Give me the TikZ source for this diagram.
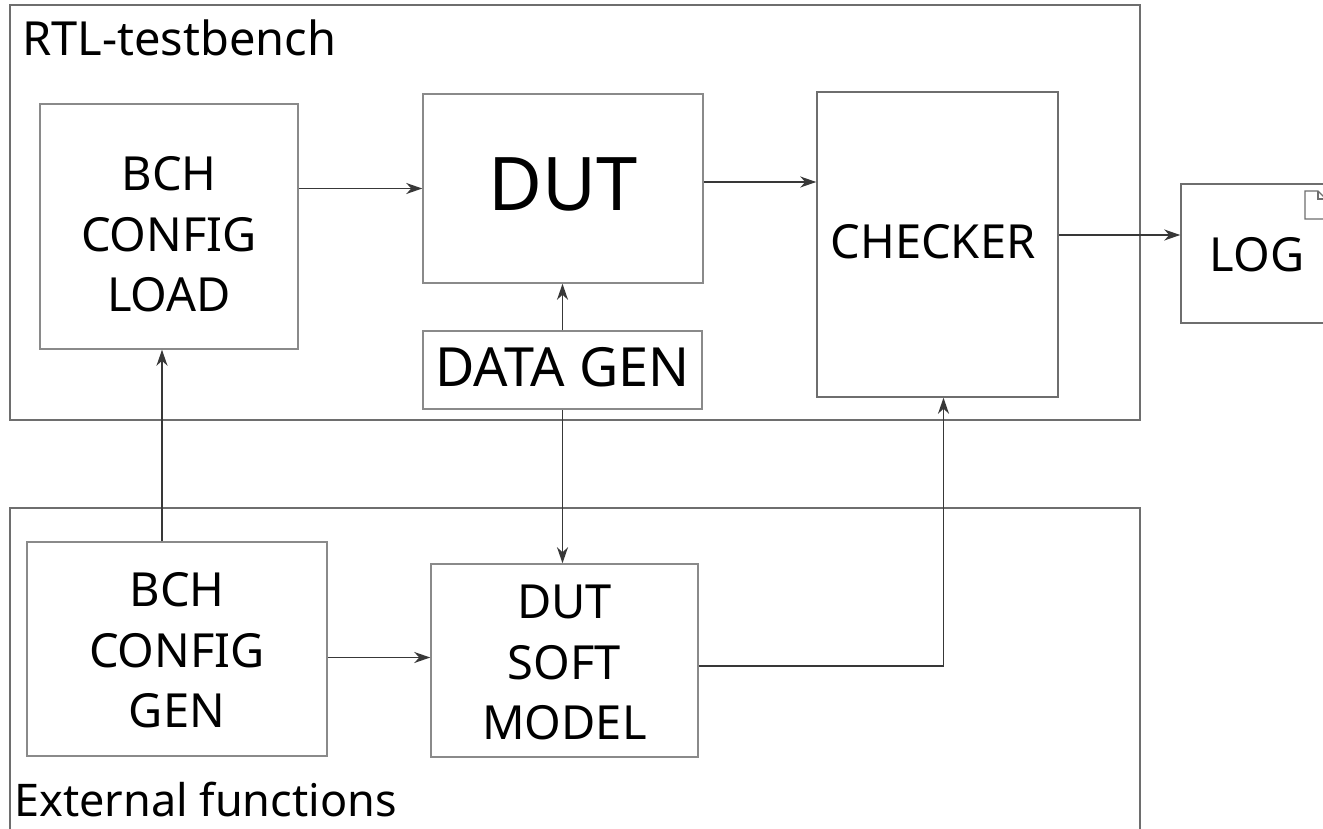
\documentclass[tikz,border=0pt]{standalone}
\usepackage{fontspec}
\setmainfont{Noto Sans}
\usetikzlibrary{arrows.meta,calc}
\definecolor{boxline}{HTML}{8A8A8A}
\definecolor{frameline}{HTML}{6E6E6E}
\definecolor{wire}{HTML}{383838}
\tikzset{
  block/.style={draw=boxline, line width=1.5pt, fill=white, inner sep=0pt},
  frame/.style={draw=frameline, line width=1.5pt},
  caption/.style={font=\fontsize{47}{60.5}\selectfont, align=center, inner sep=0pt},
  title/.style={font=\fontsize{47}{52}\selectfont, anchor=base west, inner sep=0pt},
  arr/.style={draw=wire, line width=1.5pt, -{Stealth[length=16pt,width=11pt,inset=5pt]}},
}
\begin{document}
\begin{tikzpicture}[x=1pt,y=-1pt]
  \useasboundingbox (0,0) rectangle (1323,829);
  \begin{scope}
    \clip (0,0) rectangle (1323,829);

    % enclosing regions
    \draw[frame] (10,5) rectangle (1140,420);
    \draw[frame] (10,508) rectangle (1140,860);
    \node[title] (rtl) at (22,56) {RTL-testbench};
    \node[title, font=\fontsize{45}{50}\selectfont] (ext) at (14,816) {External functions};

    % testbench blocks
    \node[block, minimum width=258pt, minimum height=245pt] (load) at (169,226.5) {};
    \node[caption] (loadtxt) at (169,234.5) {BCH\\CONFIG\\LOAD};

    \node[block, minimum width=280pt, minimum height=189pt] (dut) at (563,188.5) {};
    \node[caption, font=\fontsize{74}{80}\selectfont] (duttxt) at (563,184.5) {DUT};

    \node[block, minimum width=279pt, minimum height=78pt] (datagen) at (562.5,370) {};
    \node[caption, font=\fontsize{54}{60}\selectfont] (datagentxt) at (562.5,367.5) {DATA GEN};

    \node[block, draw=frameline, minimum width=241pt, minimum height=305pt] (checker) at (937.5,244.5) {};
    \node[caption, font=\fontsize{47}{55}\selectfont] (checkertxt) at (933,241.5) {CHECKER};

    % log file
    \node[block, draw=frameline, minimum width=152pt, minimum height=139pt] (log) at (1257,253.5) {};
    \node[caption] (logtxt) at (1257,255) {LOG};
    \draw[draw=frameline, line width=1.3pt]
      (1305,191) -- (1318,191) -- (1326,199) -- (1326,219) -- (1305,219) -- cycle;
    \draw[draw=frameline, line width=1.1pt] (1318,191) -- (1318,199) -- (1326,199);

    % external blocks
    \node[block, minimum width=300pt, minimum height=214pt] (gen) at (177,649) {};
    \node[caption] (gentxt) at (177,650.5) {BCH\\CONFIG\\GEN};

    \node[block, minimum width=267pt, minimum height=193pt] (soft) at (564.5,660.5) {};
    \node[caption] (softtxt) at (564.5,662.5) {DUT\\SOFT\\MODEL};
  \end{scope}

  % connections
  \draw[arr] (load.east |- dut.west) -- (dut.west);
  \draw[arr] ([yshift=6.5pt]dut.east) -- ([yshift=6.5pt]dut.east -| checker.west);
  \draw[arr] ([yshift=9.5pt]checker.east) -- ([yshift=9.5pt]checker.east -| log.west);
  \draw[arr] (datagen.north) -- (datagen.north |- dut.south);
  \draw[arr] (datagen.south) -- (datagen.south |- soft.north);
  \draw[arr] ([xshift=-7pt]load.south |- gen.north) -- ([xshift=-7pt]load.south);
  \draw[arr] ([yshift=3pt]gen.east |- soft.west) -- ([yshift=3pt]soft.west);
  \draw[arr] ([yshift=-5.5pt]soft.east) -| ([xshift=6pt]checker.south);
\end{tikzpicture}
\end{document}
